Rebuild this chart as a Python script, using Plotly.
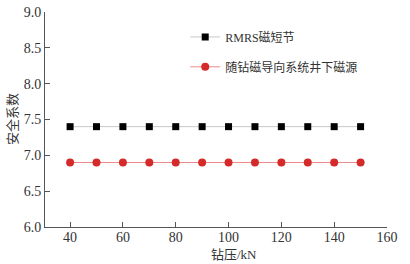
import plotly.graph_objects as go

x_vals = [40, 50, 60, 70, 80, 90, 100, 110, 120, 130, 140, 150]
rmrs = [7.4] * 12
mwd = [6.9] * 12
name_rmrs = "RMRS磁短节"
name_mwd = "随钻磁导向系统井下磁源"
x_title = "钻压/kN"
y_title = "安全系数"

serif = "Liberation Serif, Noto Sans CJK SC, serif"

fig = go.Figure()
fig.add_trace(go.Scatter(x=x_vals, y=rmrs, name=name_rmrs, mode="lines+markers",
                         line=dict(color="#c8c8c8", width=1),
                         marker=dict(symbol="square", size=7, color="#000000"),
                         legend="legend"))
fig.add_trace(go.Scatter(x=x_vals, y=mwd, name=name_mwd, mode="lines+markers",
                         line=dict(color="#f08a8a", width=1),
                         marker=dict(symbol="circle", size=8, color="#d42a2a"),
                         legend="legend2"))

axis_common = dict(showline=True, linecolor="#555555", linewidth=1, ticks="inside",
                   tickcolor="#555555", ticklen=5, tickwidth=1, showgrid=False, zeroline=False,
                   automargin=False,
                   tickfont=dict(family=serif, size=14, color="#333333"))

leg_font = dict(family=serif, size=12, color="#333333")
title_font = dict(family=serif, size=13, color="#333333")

fig.update_layout(
    width=410, height=264,
    margin=dict(l=45, r=23, t=12, b=37),
    paper_bgcolor="white", plot_bgcolor="white",
    xaxis=dict(range=[30.5, 160], tickvals=[40, 60, 80, 100, 120, 140, 160],
               ticklabelstandoff=-3, **axis_common),
    yaxis=dict(range=[6, 9], tickvals=[6, 6.5, 7, 7.5, 8, 8.5, 9], tickformat=".1f", **axis_common),
    legend=dict(x=0.41, y=0.884, xanchor="left", yanchor="middle", font=leg_font,
                bgcolor="rgba(255,255,255,0)"),
    legend2=dict(x=0.41, y=0.745, xanchor="left", yanchor="middle", font=leg_font,
                 bgcolor="rgba(255,255,255,0)"),
    showlegend=True,
    annotations=[
        dict(text=x_title, xref="paper", yref="paper", x=0.553, y=-0.13,
             xanchor="center", yanchor="middle", showarrow=False, font=title_font),
        dict(text=y_title, xref="paper", yref="paper", x=-0.095, y=0.5,
             xanchor="center", yanchor="middle", showarrow=False, textangle=-90, font=title_font),
    ],
)

fig.write_html("out.html", config={"displayModeBar": False},
               post_script="document.body.style.margin='0';")
